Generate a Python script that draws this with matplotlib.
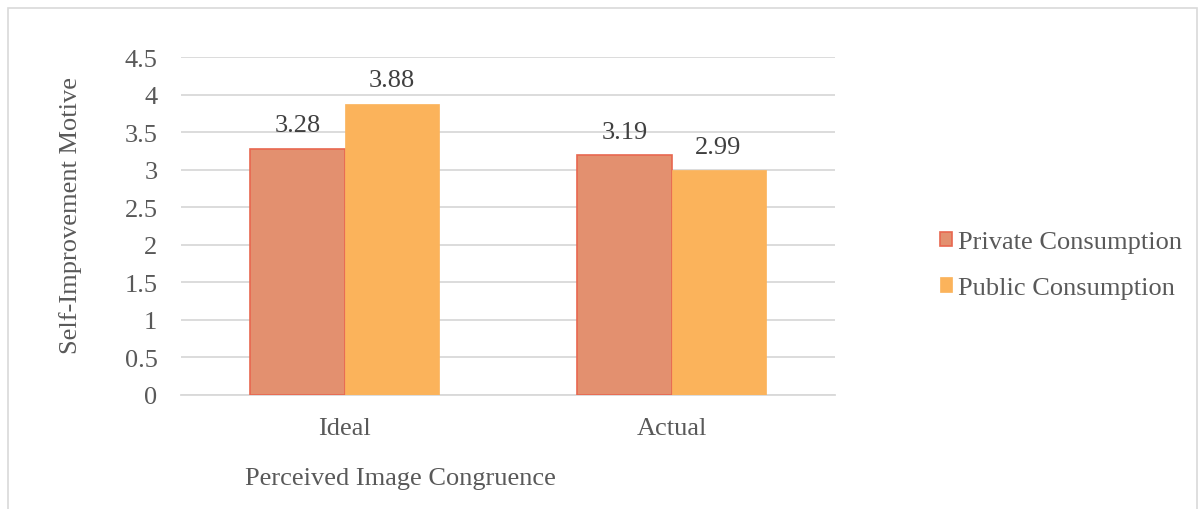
import matplotlib.pyplot as plt
from matplotlib.patches import Rectangle
import numpy as np

categories = ["Ideal", "Actual"]
private_vals = [3.28, 3.19]
public_vals = [3.88, 2.99]
series_names = ["Private Consumption", "Public Consumption"]
y_ticks = [0, 0.5, 1, 1.5, 2, 2.5, 3, 3.5, 4, 4.5]
y_tick_labels = ["0", "0.5", "1", "1.5", "2", "2.5", "3", "3.5", "4", "4.5"]

plt.rcParams['font.family'] = ['Liberation Serif', 'DejaVu Serif']
text_color = "#595959"
grid_color = "#D9D9D9"
private_face = "#E3906F"
private_edge = "#E8674F"
public_face = "#FBB35B"
fs = 19

W, H = 1204, 510
fig = plt.figure(figsize=(W / 100, H / 100), dpi=100)

# outer chart border
fig.patches.append(Rectangle((8 / W, -0.01), (1197 - 8) / W, (H - 9) / H + 0.01,
                             transform=fig.transFigure, fill=False,
                             edgecolor="#D9D9D9", linewidth=1.2))

ax = fig.add_axes([181 / W, 1 - 396 / H, (835 - 181) / W, (396 - 58) / H])

x = np.arange(len(categories))
bw = 0.2875
b1 = ax.bar(x - bw / 2, private_vals, bw, color=private_face,
            edgecolor=private_edge, linewidth=1.2, label=series_names[0], zorder=3)
b2 = ax.bar(x + bw / 2, public_vals, bw, color=public_face,
            edgecolor=public_face, linewidth=0.5, label=series_names[1], zorder=3)

for bars, vals in ((b1, private_vals), (b2, public_vals)):
    for r, v in zip(bars, vals):
        ax.annotate(f"{v:.2f}", (r.get_x() + r.get_width() / 2, v),
                    xytext=(0, 9), textcoords="offset points",
                    ha="center", va="bottom", fontsize=fs, color="#404040")

ax.set_xlim(-0.5, 1.5)
ax.set_ylim(0, 4.5)
ax.set_yticks(y_ticks)
ax.set_yticklabels(y_tick_labels)
ax.set_xticks(x)
ax.set_xticklabels(categories)
ax.tick_params(axis="both", length=0, labelsize=fs, colors=text_color)
ax.tick_params(axis="y", pad=17)
ax.tick_params(axis="x", pad=16)
ax.yaxis.grid(True, color=grid_color, linewidth=1.3, zorder=0)
ax.set_axisbelow(True)
for s in ["top", "right", "left"]:
    ax.spines[s].set_visible(False)
ax.spines["bottom"].set_color(grid_color)
ax.spines["bottom"].set_linewidth(1.3)

fig.text(71 / W, 1 - 216 / H, "Self-Improvement Motive", rotation=90,
         ha="center", va="center", fontsize=fs, color=text_color)
fig.text(400 / W, 1 - 479 / H, "Perceived Image Congruence",
         ha="center", va="center", fontsize=fs, color=text_color)

fig.legend(handles=[b1, b2], labels=series_names, loc="center left",
           bbox_to_anchor=(940 / W, 1 - 266 / H), frameon=False,
           fontsize=fs, labelcolor=text_color, handlelength=0.45,
           handleheight=0.45, handletextpad=0.25, labelspacing=0.9,
           borderaxespad=0, borderpad=0)

fig.savefig("out.png", dpi=100)
